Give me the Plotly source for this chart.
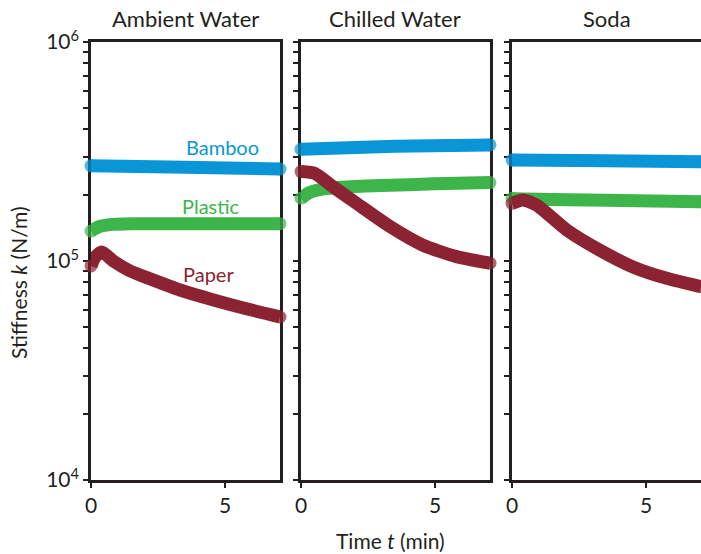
import math
import plotly.graph_objects as go

# ---------------- data ----------------
panel_titles = ["Ambient Water", "Chilled Water", "Soda"]
series_names = ["Bamboo", "Plastic", "Paper"]
series_colors = {"Bamboo": "#0a96d6", "Plastic": "#3db54a", "Paper": "#8b2332"}

# Ambient Water
amb_bamboo_t = [0, 3.5, 7.05]
amb_bamboo_k = [272000, 268000, 263000]
amb_plastic_t = [0, 0.3, 0.8, 1.5, 3, 7.05]
amb_plastic_k = [137000, 143500, 147000, 148000, 148000, 148000]
amb_paper_t = [0, 0.15, 0.4, 0.83, 1.46, 2.08, 3.32, 4.57, 5.8, 7.05]
amb_paper_k = [95000, 104000, 110000, 100000, 90000, 84000, 73700, 66400, 60500, 55500]

# Chilled Water
chl_bamboo_t = [0, 3.5, 7.05]
chl_bamboo_k = [324000, 334000, 339000]
chl_plastic_t = [0, 0.3, 0.8, 1.5, 3, 5, 7.05]
chl_plastic_k = [193500, 205000, 213000, 217000, 221000, 225000, 228000]
chl_paper_t = [0, 0.52, 1.2, 2.08, 3.32, 4.55, 5.8, 7.05]
chl_paper_k = [256000, 251000, 218000, 183000, 143600, 118000, 104700, 97700]

# Soda
soda_bamboo_t = [0, 3.5, 7.05]
soda_bamboo_k = [289000, 287000, 284000]
soda_plastic_t = [0, 0.5, 3.5, 7.05]
soda_plastic_k = [193000, 192000, 189500, 186600]
soda_paper_t = [0, 0.41, 0.92, 2.04, 3.28, 4.51, 5.77, 7.05]
soda_paper_k = [183400, 190000, 180000, 138600, 112000, 94000, 83400, 76400]

panel_data = [
    {"Bamboo": (amb_bamboo_t, amb_bamboo_k), "Plastic": (amb_plastic_t, amb_plastic_k), "Paper": (amb_paper_t, amb_paper_k)},
    {"Bamboo": (chl_bamboo_t, chl_bamboo_k), "Plastic": (chl_plastic_t, chl_plastic_k), "Paper": (chl_paper_t, chl_paper_k)},
    {"Bamboo": (soda_bamboo_t, soda_bamboo_k), "Plastic": (soda_plastic_t, soda_plastic_k), "Paper": (soda_paper_t, soda_paper_k)},
]

# series labels (placed in first panel)
label_t = [4.89, 4.48, 4.37]
label_k = [332000, 178000, 87000]

x_ticks = [0, 5]
y_ticks = [1e4, 1e5, 1e6]
y_ticktext = ["10<sup>4</sup>", "10<sup>5</sup>", "10<sup>6</sup>"]
y_minor = [m * 10 ** e for e in (4, 5) for m in range(2, 10)]

# ---------------- layout ----------------
W, H = 701, 554
FONT = "Lato"
INK = "#231f20"
x_px = [(91, 280), (301, 490), (512, 701)]
y_top, y_bot = 42, 480
ydom = [1 - y_bot / H, 1 - y_top / H]

fig = go.Figure()
for i, pdata in enumerate(panel_data):
    xr = "x" if i == 0 else f"x{i+1}"
    yr = "y" if i == 0 else f"y{i+1}"
    for name in series_names:
        t, k = pdata[name]
        sizes = [13] + [0] * (len(t) - 2) + [13]
        fig.add_trace(go.Scatter(
            x=t, y=k, mode="lines+markers", xaxis=xr, yaxis=yr,
            line=dict(color=series_colors[name], width=13, shape="spline", smoothing=0.6),
            marker=dict(size=sizes, color=series_colors[name], line=dict(width=0)),
            cliponaxis=False, showlegend=False, hoverinfo="skip"))

    xkey = "xaxis" if i == 0 else f"xaxis{i+1}"
    ykey = "yaxis" if i == 0 else f"yaxis{i+1}"
    fig.update_layout({
        xkey: dict(domain=[x_px[i][0] / W, x_px[i][1] / W], anchor=yr, range=[0, 7.05],
                   tickvals=x_ticks, ticks="outside", ticklen=5, tickwidth=2, tickcolor=INK,
                   showline=True, linewidth=2.5, linecolor=INK, mirror=True,
                   showgrid=False, zeroline=False, automargin=False, layer="below traces",
                   tickfont=dict(family=FONT, size=21, color=INK)),
        ykey: dict(domain=ydom, anchor=xr, type="log", range=[4, 6],
                   tickvals=y_ticks, ticktext=y_ticktext, showticklabels=(i == 0),
                   ticks="outside", ticklen=5, tickwidth=2, tickcolor=INK,
                   minor=dict(tickvals=y_minor, ticks="outside", ticklen=5, tickwidth=2, tickcolor=INK),
                   showline=True, linewidth=2.5, linecolor=INK, mirror=True,
                   showgrid=False, zeroline=False, automargin=False, layer="below traces",
                   tickfont=dict(family=FONT, size=21, color=INK)),
    })

annotations = []
for i, title in enumerate(panel_titles):
    cx = (x_px[i][0] + x_px[i][1]) / 2 / W
    annotations.append(dict(text=title, xref="paper", yref="paper", x=cx, y=1 - 18 / H,
                            xanchor="center", yanchor="middle", showarrow=False,
                            font=dict(family=FONT, size=22, color=INK)))
for name, lt, lk in zip(series_names, label_t, label_k):
    annotations.append(dict(text=name, xref="x", yref="y", x=lt, y=math.log10(lk),
                            xanchor="center", yanchor="middle", showarrow=False,
                            font=dict(family=FONT, size=20, color=series_colors[name])))
annotations.append(dict(text="Stiffness <i>k</i> (N/m)", xref="paper", yref="paper",
                        x=18 / W, y=1 - 283 / H, textangle=-90, xanchor="center", yanchor="middle",
                        showarrow=False, font=dict(family=FONT, size=21, color=INK)))
annotations.append(dict(text="Time <i>t</i> (min)", xref="paper", yref="paper",
                        x=390 / W, y=1 - 540 / H, xanchor="center", yanchor="middle",
                        showarrow=False, font=dict(family=FONT, size=21, color=INK)))

fig.update_layout(width=W, height=H, margin=dict(l=0, r=0, t=0, b=0, autoexpand=False),
                  paper_bgcolor="white", plot_bgcolor="white",
                  annotations=annotations, showlegend=False)

fig.write_html("out.html", config={"displayModeBar": False},
               post_script="document.body.style.margin='0';document.body.style.overflow='hidden';")
